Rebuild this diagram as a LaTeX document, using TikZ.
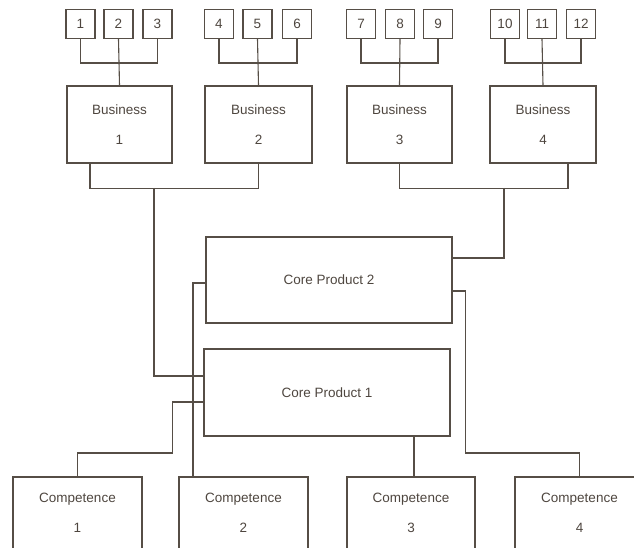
\documentclass[tikz,border=0pt]{standalone}
\usepackage{fontspec}
\setmainfont{Liberation Sans}
\begin{document}
\definecolor{ink}{RGB}{86,78,70}
\begin{tikzpicture}[x=1pt,y=-1pt,
  every node/.style={font=\fontsize{13.5}{30}\selectfont, text=ink!90!black},
  box/.style={draw=ink, line width=1.1pt, inner sep=0pt, align=center},
  numbox/.style={box, minimum width=29pt, minimum height=29pt},
  bizbox/.style={box, minimum width=105pt, minimum height=77pt},
  corebox/.style={box, minimum width=246pt, minimum height=86pt},
  compbox/.style={box, minimum width=129pt, minimum height=72pt},
  link/.style={draw=ink, line width=1.1pt, line join=miter}]
\clip (0,0) rectangle (634,548);

% numbered items
\foreach \n/\x in {1/80.5,2/118.5,3/157.5,4/219,5/257.5,6/297,
                   7/361,8/400,9/438,10/505,11/542,12/581}
  \node[numbox] (n\n) at (\x,24) {\n};

% businesses
\node[bizbox] (b1) at (119.5,124.5) {Business\\1};
\node[bizbox, minimum width=107pt] (b2) at (258.5,124.5) {Business\\2};
\node[bizbox] (b3) at (399.5,124.5) {Business\\3};
\node[bizbox, minimum width=106pt] (b4) at (543,124.5) {Business\\4};

% core products
\node[corebox] (cp2) at (329,280) {Core Product 2};
\node[corebox, minimum height=87pt] (cp1) at (327,392.5) {Core Product 1};

% competences
\node[compbox] (c1) at (77.5,513) {Competence\\1};
\node[compbox] (c2) at (243.5,513) {Competence\\2};
\node[compbox, minimum width=128pt] (c3) at (411,513) {Competence\\3};
\node[compbox] (c4) at (579.5,513) {Competence\\4};

% items to businesses
\foreach \a/\b/\c/\t in {n1/n2/n3/b1, n4/n5/n6/b2, n7/n8/n9/b3, n10/n11/n12/b4}{
  \path[link] (\a.south) -- ++(0,24) -| (\c.south);
  \path[link] (\b.south) -- (\t.north);
}

% businesses to core products (yshift acts on the page, upward positive)
\path[link] ([xshift=-29.5pt]b1.south) -- ++(0,25) -| (b2.south);
\path[link] ([xshift=34.5pt]b1.south |- 0,188) |- ([yshift=16.5pt]cp1.west);
\path[link] (b3.south) -- ++(0,25) -| ([xshift=25pt]b4.south);
\path[link] ([xshift=-39pt]b4.south |- 0,188) |- ([yshift=22pt]cp2.east);

% core products to competences
\path[link] ([yshift=-3pt]cp2.west) -| ([xshift=-50.5pt]c2.north);
\path[link] ([yshift=-9.5pt]cp1.west) -- ++(-31,0) |- (77.5,453) -- (c1.north);
\path[link] ([xshift=87pt]cp1.south) -- ([xshift=3pt]c3.north);
\path[link] ([yshift=-11pt]cp2.east) -- ++(13,0) |- (579.5,453) -- (c4.north);
\end{tikzpicture}
\end{document}
